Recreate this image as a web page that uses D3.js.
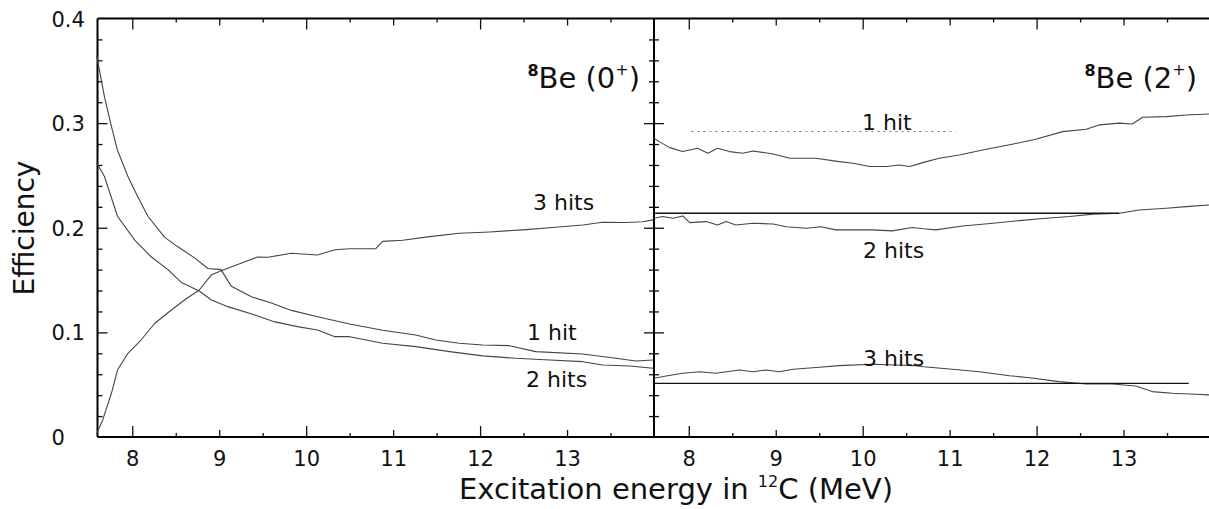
<!DOCTYPE html>
<html><head><meta charset="utf-8">
<script src="https://cdn.jsdelivr.net/npm/d3@7"></script>
<style>
body{margin:0;background:#fff}
text{font-family:"DejaVu Sans", Verdana, sans-serif; fill:#111;}
</style>
</head><body><svg id="c" width="1209" height="509"></svg>
<script>
// ---------- data ----------
const xTickValues = [8, 9, 10, 11, 12, 13];
const xTickLabels = ["8", "9", "10", "11", "12", "13"];
const yTickValues = [0, 0.1, 0.2, 0.3, 0.4];
const yTickLabels = ["0", "0.1", "0.2", "0.3", "0.4"];
const xDomain = [7.6, 14.0];
const yDomain = [0, 0.4];

// 8Be(0+) panel: [excitation energy (MeV), efficiency]
const be0_1hit = [[7.59,0.365],[7.68,0.325],[7.76,0.297],[7.83,0.274],[7.95,0.249],[8.06,0.230],[8.18,0.211],[8.37,0.191],[8.52,0.182],[8.72,0.171],[8.87,0.161],[9.02,0.160],[9.14,0.144],[9.37,0.134],[9.60,0.128],[9.83,0.121],[10.13,0.115],[10.5,0.108],[10.88,0.102],[11.26,0.0975],[11.49,0.0927],[11.76,0.0896],[12.03,0.088],[12.34,0.0873],[12.64,0.0816],[13.18,0.0793],[13.56,0.0752],[13.79,0.0727],[13.99,0.0736]];
const be0_2hits = [[7.59,0.262],[7.68,0.249],[7.83,0.211],[8.03,0.188],[8.22,0.172],[8.41,0.160],[8.56,0.148],[8.77,0.1396],[8.91,0.131],[9.10,0.1246],[9.41,0.1166],[9.64,0.110],[9.90,0.1055],[10.13,0.1023],[10.33,0.0959],[10.5,0.0959],[10.88,0.0896],[11.26,0.0864],[11.65,0.0816],[12.03,0.0775],[12.41,0.0752],[12.80,0.0736],[13.18,0.072],[13.41,0.0688],[13.72,0.0679],[13.99,0.0657]];
const be0_3hits = [[7.59,0.003],[7.66,0.0163],[7.76,0.0418],[7.83,0.064],[7.95,0.080],[8.10,0.0927],[8.26,0.1087],[8.45,0.1214],[8.60,0.131],[8.77,0.1405],[8.91,0.155],[9.06,0.160],[9.25,0.166],[9.44,0.172],[9.56,0.1718],[9.83,0.1756],[10.13,0.174],[10.33,0.179],[10.5,0.180],[10.80,0.180],[10.88,0.187],[11.11,0.188],[11.42,0.1915],[11.76,0.1947],[12.11,0.196],[12.49,0.198],[12.80,0.200],[13.18,0.2027],[13.41,0.2053],[13.68,0.205],[13.87,0.2058],[13.99,0.2075]];

// 8Be(2+) panel
const be2_1hit = [[7.6,0.2855],[7.66,0.2823],[7.78,0.2766],[7.93,0.2728],[8.10,0.276],[8.22,0.2712],[8.33,0.276],[8.47,0.2728],[8.62,0.2712],[8.74,0.2734],[8.97,0.2705],[9.16,0.2664],[9.46,0.2664],[9.73,0.2632],[9.89,0.2617],[10.08,0.2585],[10.27,0.2585],[10.42,0.260],[10.54,0.2585],[10.70,0.2625],[10.88,0.2664],[11.11,0.2696],[11.42,0.275],[11.72,0.2798],[11.99,0.2846],[12.30,0.2919],[12.57,0.2942],[12.72,0.2983],[12.95,0.300],[13.10,0.2992],[13.22,0.3056],[13.49,0.3062],[13.72,0.3078],[14.0,0.3088]];
const be2_2hits = [[7.6,0.2091],[7.70,0.2107],[7.82,0.2091],[7.93,0.2113],[8.01,0.2049],[8.20,0.2059],[8.33,0.2027],[8.43,0.2059],[8.54,0.2027],[8.74,0.2043],[8.97,0.2036],[9.12,0.201],[9.35,0.1995],[9.52,0.201],[9.69,0.198],[9.92,0.198],[10.11,0.198],[10.34,0.197],[10.57,0.2003],[10.70,0.199],[10.84,0.198],[11.15,0.2017],[11.50,0.2043],[11.80,0.2068],[12.11,0.2091],[12.38,0.2107],[12.65,0.213],[12.95,0.2138],[13.18,0.217],[13.49,0.2186],[13.72,0.2202],[14.0,0.2218]];
const be2_3hits = [[7.6,0.0561],[7.74,0.0583],[7.93,0.0609],[8.12,0.0624],[8.31,0.0609],[8.58,0.064],[8.74,0.0624],[8.89,0.064],[9.04,0.0624],[9.20,0.0647],[9.50,0.0666],[9.73,0.0682],[10.11,0.0695],[10.38,0.0688],[10.61,0.0682],[10.70,0.0672],[11.03,0.0647],[11.34,0.0624],[11.69,0.0586],[11.92,0.0567],[12.26,0.0529],[12.57,0.0507],[12.87,0.0507],[13.14,0.0488],[13.33,0.0434],[13.56,0.0418],[13.83,0.0408],[14.0,0.0402]];

// horizontal reference levels in the 2+ panel
const be2_refLevels = [0.292, 0.2138, 0.0513];
const be2_refStart = [8.03, 7.6, 7.6];
const be2_refEnd = [11.07, 12.95, 13.75];
const be2_refDash = ["2,4", null, null];

const panelLabels = [["8", "Be (0", "+", ")"], ["8", "Be (2", "+", ")"]];
const curveLabels0 = ["3 hits", "1 hit", "2 hits"];
const curveLabels2 = ["1 hit", "2 hits", "3 hits"];

// ---------- layout ----------
const svg = d3.select("#c");
const plotTop = 18.5, plotBottom = 437;
const leftL = 97.5, mid = 654, rightR = 1210.5;
const y = d3.scaleLinear().domain(yDomain).range([plotBottom, plotTop]);
const xL = d3.scaleLinear().domain(xDomain).range([leftL, mid]);
const xR = d3.scaleLinear().domain(xDomain).range([mid, rightR]);
const FONT = "DejaVu Sans, Verdana, sans-serif";

const stepRange = (a, b, s) => d3.range(Math.round(a / s), Math.round(b / s) + 1).map(k => +(k * s).toFixed(4));
const x2 = [8, 10, 12];
const x1 = [9, 11, 13];
const xHalf = stepRange(7.5, 14, 0.5).filter(v => v > 7.6 && v < 14 && v % 1 !== 0);
const yMajor = [0.1, 0.2, 0.3];
const yMinor = stepRange(0, 0.4, 0.02).filter(v => v > 0 && v < 0.4 && Math.round(v * 100) % 10 !== 0);

function tickAxis(axisGen, values, size, transform) {
  const g = svg.append("g").attr("transform", transform)
    .call(axisGen.tickValues(values).tickSizeInner(-size).tickSizeOuter(0).tickFormat(""));
  g.select(".domain").remove();
  g.selectAll("line").attr("stroke", "#111").attr("stroke-width", 1.3);
}

[xL, xR].forEach(x => {
  tickAxis(d3.axisBottom(x), x2, 11, `translate(0,${plotBottom})`);
  tickAxis(d3.axisBottom(x), x1, 7, `translate(0,${plotBottom})`);
  tickAxis(d3.axisBottom(x), xHalf, 4, `translate(0,${plotBottom})`);
  tickAxis(d3.axisTop(x), x2, 11, `translate(0,${plotTop})`);
  tickAxis(d3.axisTop(x), x1, 7, `translate(0,${plotTop})`);
  tickAxis(d3.axisTop(x), xHalf, 4, `translate(0,${plotTop})`);
  const g = svg.append("g").attr("transform", `translate(0,${plotBottom})`)
    .call(d3.axisBottom(x).tickValues(xTickValues).tickSize(0).tickPadding(14)
      .tickFormat((d, i) => xTickLabels[i]));
  g.select(".domain").remove();
  g.selectAll("text").attr("font-size", 21).attr("font-family", FONT).attr("fill", "#111");
});

tickAxis(d3.axisLeft(y), yMajor, 10, `translate(${leftL},0)`);
tickAxis(d3.axisLeft(y), yMinor, 5, `translate(${leftL},0)`);
tickAxis(d3.axisRight(y), yMajor, 10, `translate(${mid},0)`);
tickAxis(d3.axisRight(y), yMinor, 5, `translate(${mid},0)`);
tickAxis(d3.axisLeft(y), yMajor, 10, `translate(${mid},0)`);
tickAxis(d3.axisLeft(y), yMinor, 5, `translate(${mid},0)`);

const gy = svg.append("g").attr("transform", `translate(${leftL},0)`)
  .call(d3.axisLeft(y).tickValues(yTickValues).tickSize(0).tickFormat((d, i) => yTickLabels[i]));
gy.select(".domain").remove();
gy.selectAll("text").attr("x", -46).attr("text-anchor", "start").attr("dy", "0.36em")
  .attr("font-size", 21).attr("font-family", FONT).attr("fill", "#111");

const frame = svg.append("g").attr("stroke", "#000").attr("stroke-width", 2).attr("fill", "none");
frame.append("line").attr("x1", leftL).attr("x2", rightR + 2).attr("y1", plotTop).attr("y2", plotTop);
frame.append("line").attr("x1", leftL).attr("x2", rightR + 2).attr("y1", plotBottom).attr("y2", plotBottom);
frame.append("line").attr("x1", leftL).attr("x2", leftL).attr("y1", plotTop).attr("y2", plotBottom);
frame.append("line").attr("x1", mid).attr("x2", mid).attr("y1", plotTop).attr("y2", plotBottom);

function drawCurve(x, data) {
  const line = d3.line().x(d => x(d[0])).y(d => y(d[1]));
  svg.append("path").datum(data).attr("d", line)
    .attr("fill", "none").attr("stroke", "#444").attr("stroke-width", 1.1).attr("stroke-linejoin", "round");
}
[be0_1hit, be0_2hits, be0_3hits].forEach(d => drawCurve(xL, d));
[be2_1hit, be2_2hits, be2_3hits].forEach(d => drawCurve(xR, d));

be2_refLevels.forEach((v, i) => {
  const l = svg.append("line").attr("x1", xR(be2_refStart[i])).attr("x2", xR(be2_refEnd[i]))
    .attr("y1", y(v)).attr("y2", y(v)).attr("stroke", "#111")
    .attr("stroke-width", be2_refDash[i] ? 1.2 : 1.4);
  if (be2_refDash[i]) l.attr("stroke-dasharray", be2_refDash[i]).attr("stroke", "#777");
});

function panelLabel(parts, xr, yb) {
  const t = svg.append("text").attr("x", xr).attr("y", yb).attr("text-anchor", "end").attr("font-size", 29);
  t.append("tspan").text(parts[0]).attr("font-size", 16).attr("dy", -12).attr("font-weight", "bold");
  t.append("tspan").text(parts[1]).attr("dy", 12);
  t.append("tspan").text(parts[2]).attr("font-size", 16).attr("dy", -13);
  t.append("tspan").text(parts[3]).attr("dy", 13);
}
panelLabel(panelLabels[0], 640, 88);
panelLabel(panelLabels[1], 1197, 88);

const lab0Pos = [[533, 210], [527, 340], [526, 387]];
curveLabels0.forEach((s, i) => svg.append("text").attr("x", lab0Pos[i][0]).attr("y", lab0Pos[i][1]).attr("font-size", 22).text(s));
const lab2Pos = [[862, 130], [863, 258], [863, 366]];
curveLabels2.forEach((s, i) => svg.append("text").attr("x", lab2Pos[i][0]).attr("y", lab2Pos[i][1]).attr("font-size", 22).text(s));

svg.append("text").attr("transform", "translate(34,228) rotate(-90)").attr("text-anchor", "middle")
  .attr("font-size", 28).text("Efficiency");
const xt = svg.append("text").attr("x", 676).attr("y", 499).attr("text-anchor", "middle").attr("font-size", 29);
xt.append("tspan").text("Excitation energy in ");
xt.append("tspan").text("12").attr("font-size", 16).attr("dy", -12);
xt.append("tspan").text("C (MeV)").attr("dy", 12);
</script>
</body></html>
